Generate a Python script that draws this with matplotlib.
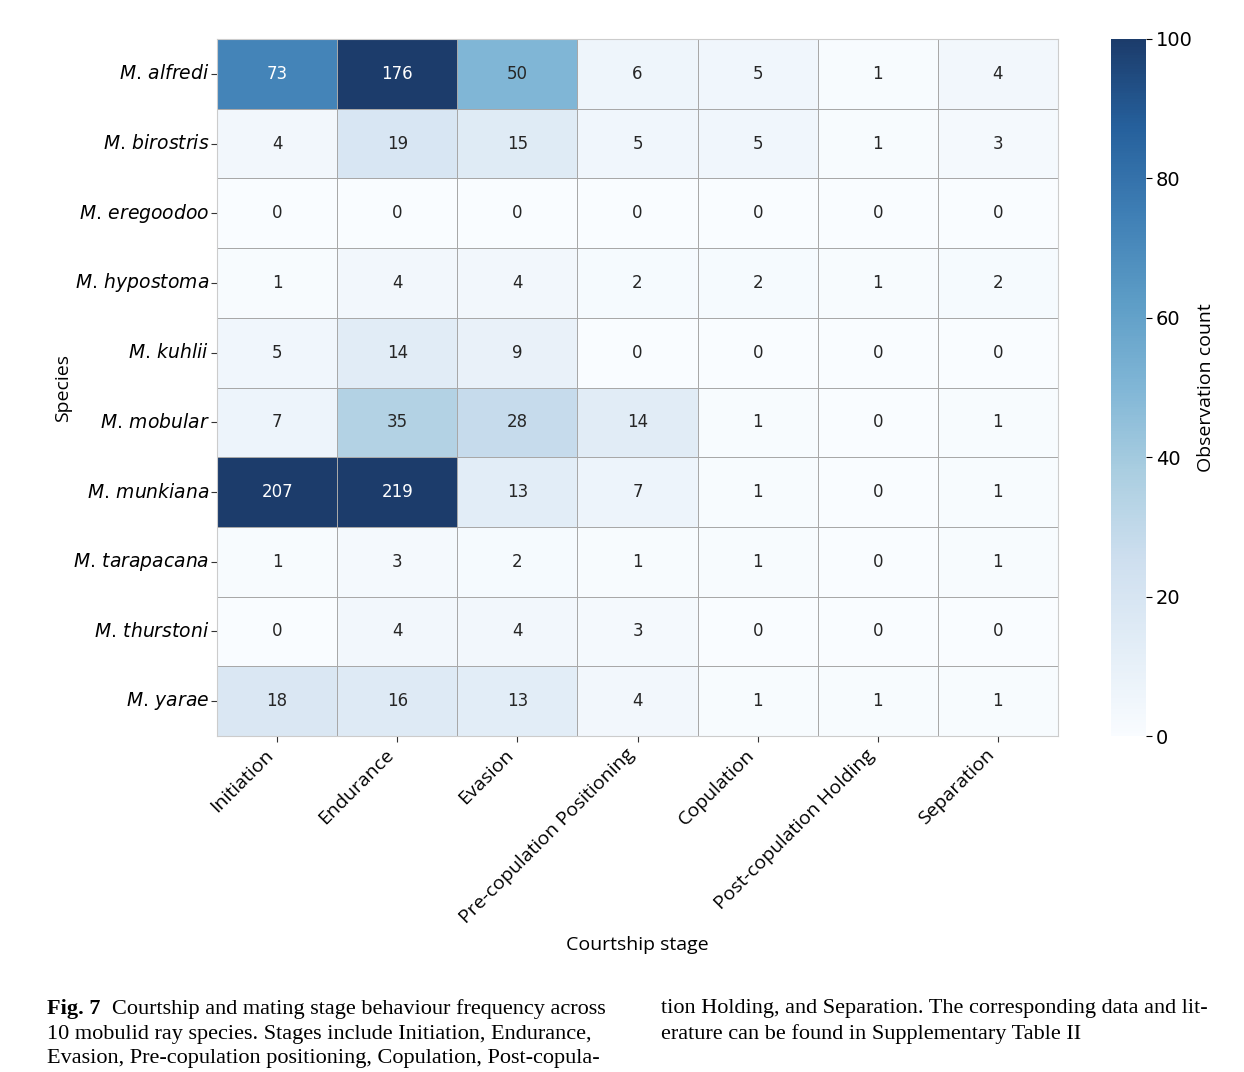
import matplotlib
matplotlib.use("Agg")
import matplotlib.pyplot as plt
import matplotlib.colors as mcolors
import numpy as np
import seaborn as sns

species = ["alfredi", "birostris", "eregoodoo", "hypostoma", "kuhlii",
           "mobular", "munkiana", "tarapacana", "thurstoni", "yarae"]
stages = ["Initiation", "Endurance", "Evasion", "Pre-copulation Positioning",
          "Copulation", "Post-copulation Holding", "Separation"]
counts = [
    [73, 176, 50, 6, 5, 1, 4],
    [4, 19, 15, 5, 5, 1, 3],
    [0, 0, 0, 0, 0, 0, 0],
    [1, 4, 4, 2, 2, 1, 2],
    [5, 14, 9, 0, 0, 0, 0],
    [7, 35, 28, 14, 1, 0, 1],
    [207, 219, 13, 7, 1, 0, 1],
    [1, 3, 2, 1, 1, 0, 1],
    [0, 4, 4, 3, 0, 0, 0],
    [18, 16, 13, 4, 1, 1, 1],
]
cbar_ticks = [0, 20, 40, 60, 80, 100]

data = np.array(counts)
ylabels = [r"$\it{M.\,}$" + r"$\it{" + s + "}$" for s in species]

# slightly desaturated Blues, as in the printed figure
base = plt.get_cmap("Blues")(np.linspace(0, 1, 256))[:, :3]
hsv = mcolors.rgb_to_hsv(base)
hsv[:, 1] *= 0.8
cmap = mcolors.ListedColormap(mcolors.hsv_to_rgb(hsv))

fig = plt.figure(figsize=(12.44, 10.72), dpi=100)
ax = fig.add_axes([217/1244, 1 - 736/1072, (1058-217)/1244, (736-39)/1072])
cax = fig.add_axes([1111/1244, 1 - 736/1072, (1146-1111)/1244, (736-39)/1072])

sns.heatmap(data, ax=ax, cbar_ax=cax, cmap=cmap, vmin=0, vmax=100,
            annot=True, fmt="d", annot_kws={"size": 12},
            linewidths=0.6, linecolor="#a8a8a8",
            xticklabels=stages, yticklabels=ylabels,
            cbar_kws={"ticks": cbar_ticks})

ax.set_yticklabels(ylabels, rotation=0, fontsize=13.5)
ax.set_xticklabels(stages, rotation=45, ha="right",
                   fontsize=14, family="Open Sans")
ax.tick_params(axis="both", length=4, width=0.8, color="#333333", pad=3)
ax.tick_params(axis="y", pad=1.5)
ax.set_xlabel("Courtship stage", fontsize=14, family="Open Sans", labelpad=6)
ax.set_ylabel("Species", fontsize=14, family="Open Sans", labelpad=1)
for sp in ax.spines.values():
    sp.set_visible(True)
    sp.set_color("#cccccc")
    sp.set_linewidth(0.8)

cax.tick_params(labelsize=14, length=4, pad=3)
cax.set_ylabel("Observation count", fontsize=14, family="Open Sans", labelpad=3)

serif = "Liberation Serif"
fs = 16
left_lines = [
    "Courtship and mating stage behaviour frequency across",
    "10 mobulid ray species. Stages include Initiation, Endurance,",
    "Evasion, Pre-copulation positioning, Copulation, Post-copula-",
]
right_lines = [
    "tion Holding, and Separation. The corresponding data and lit-",
    "erature can be found in Supplementary Table II",
]
ys = [1009, 1034, 1059]
fig.text(47/1244, 1 - ys[0]/1072, "Fig. 7", fontsize=fs, family=serif,
         fontweight="bold", va="center", ha="left")
fig.text(112/1244, 1 - ys[0]/1072, left_lines[0], fontsize=fs, family=serif,
         va="center", ha="left")
for y, line in zip(ys[1:], left_lines[1:]):
    fig.text(47/1244, 1 - y/1072, line, fontsize=fs, family=serif,
             va="center", ha="left")
for y, line in zip(ys, right_lines):
    fig.text(661/1244, 1 - y/1072, line, fontsize=fs, family=serif,
             va="center", ha="left")

fig.savefig("out.png", dpi=100)
